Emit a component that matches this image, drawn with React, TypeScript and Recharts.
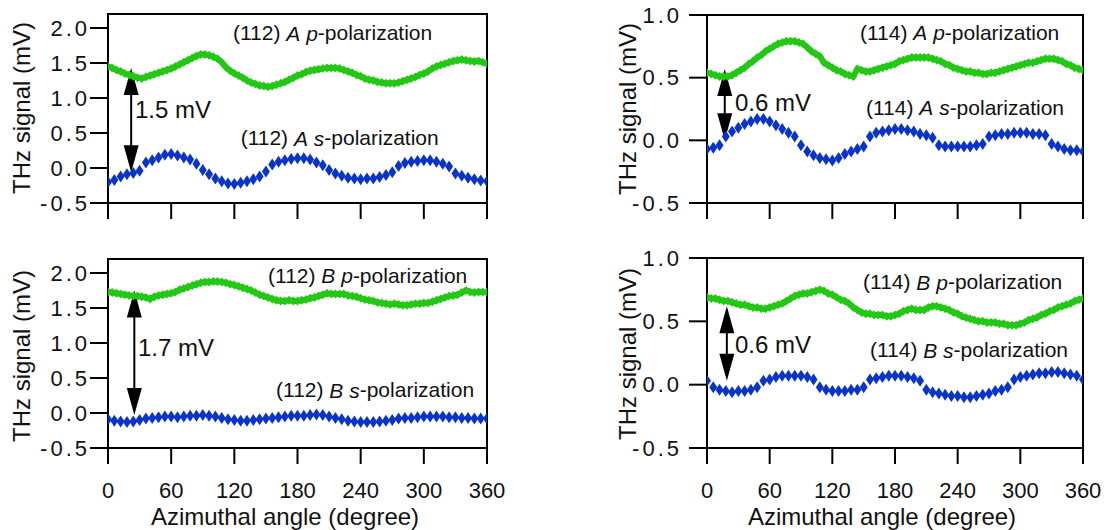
import React from 'react';
import { ScatterChart, Scatter, XAxis, YAxis, ReferenceArea, ReferenceLine, ReferenceDot } from 'recharts';

const FONT = "Arial, 'Liberation Sans', Helvetica, sans-serif";
const GREEN = '#22c814';
const BLUE = '#0a34c8';
const TEXT = '#111';

// x positions (azimuthal angle, degree)
const ANGLES_P = Array.from({ length: 91 }, (_, i) => i * 4);
const ANGLES_S = Array.from({ length: 61 }, (_, i) => i * 6);
const X_TICKS = [0, 60, 120, 180, 240, 300, 360];
const Y_TICKS_112 = [-0.5, 0, 0.5, 1, 1.5, 2];
const Y_TICKS_114 = [-0.5, 0, 0.5, 1];
const Y_DOMAIN_112: [number, number] = [-0.5, 2.2];
const Y_DOMAIN_114: [number, number] = [-0.5, 1.0];

// (112) A
const p112A = [1.45,1.43,1.40,1.38,1.35,1.33,1.31,1.29,1.28,1.30,
1.32,1.34,1.36,1.38,1.40,1.42,1.45,1.48,1.51,1.54,
1.57,1.60,1.62,1.62,1.61,1.59,1.56,1.51,1.44,1.39,
1.35,1.32,1.29,1.25,1.22,1.20,1.18,1.17,1.16,1.17,
1.19,1.21,1.23,1.26,1.29,1.32,1.34,1.37,1.39,1.40,
1.41,1.42,1.43,1.43,1.43,1.42,1.40,1.38,1.36,1.33,
1.31,1.28,1.26,1.25,1.23,1.22,1.21,1.21,1.21,1.22,
1.24,1.26,1.28,1.30,1.33,1.35,1.38,1.42,1.45,1.47,
1.49,1.51,1.53,1.54,1.55,1.54,1.53,1.52,1.53,1.51,
1.49];
const s112A = [-0.20,-0.17,-0.12,-0.09,-0.07,-0.04,0.08,0.11,0.15,0.19,
0.20,0.18,0.15,0.12,0.06,-0.03,-0.09,-0.15,-0.19,-0.22,
-0.23,-0.21,-0.19,-0.16,-0.12,-0.05,0.05,0.09,0.11,0.13,
0.14,0.14,0.12,0.08,0.04,-0.03,-0.08,-0.11,-0.14,-0.15,
-0.16,-0.15,-0.15,-0.13,-0.10,-0.06,0.03,0.07,0.09,0.10,
0.11,0.11,0.09,0.06,0.02,-0.08,-0.11,-0.14,-0.16,-0.18,
-0.19];

// (112) B
const p112B = [1.73,1.72,1.71,1.70,1.69,1.68,1.67,1.67,1.66,1.65,
1.63,1.66,1.68,1.69,1.70,1.71,1.73,1.76,1.78,1.80,
1.82,1.84,1.86,1.87,1.87,1.88,1.88,1.87,1.86,1.84,
1.83,1.81,1.79,1.77,1.75,1.72,1.69,1.67,1.65,1.63,
1.61,1.60,1.60,1.61,1.60,1.60,1.61,1.62,1.64,1.65,
1.67,1.69,1.71,1.70,1.70,1.70,1.70,1.68,1.67,1.66,
1.64,1.62,1.61,1.60,1.58,1.57,1.56,1.55,1.56,1.55,
1.54,1.54,1.55,1.56,1.56,1.57,1.57,1.59,1.61,1.63,
1.65,1.67,1.68,1.69,1.72,1.75,1.73,1.72,1.73,1.73,
1.72];
const s112B = [-0.09,-0.11,-0.12,-0.13,-0.12,-0.10,-0.08,-0.07,-0.06,-0.05,
-0.05,-0.06,-0.05,-0.04,-0.04,-0.03,-0.04,-0.05,-0.07,-0.09,
-0.10,-0.11,-0.11,-0.10,-0.09,-0.08,-0.07,-0.06,-0.05,-0.04,
-0.04,-0.04,-0.03,-0.02,-0.03,-0.05,-0.07,-0.09,-0.11,-0.12,
-0.13,-0.13,-0.13,-0.12,-0.11,-0.10,-0.08,-0.07,-0.07,-0.06,
-0.05,-0.05,-0.05,-0.05,-0.06,-0.06,-0.07,-0.07,-0.08,-0.08,
-0.08];

// (114) A
const p114A = [0.54,0.53,0.52,0.51,0.51,0.51,0.52,0.54,0.56,0.58,
0.61,0.63,0.66,0.68,0.71,0.73,0.75,0.77,0.78,0.79,
0.79,0.79,0.78,0.77,0.74,0.71,0.69,0.67,0.62,0.60,
0.58,0.56,0.55,0.53,0.52,0.51,0.57,0.56,0.55,0.55,
0.56,0.57,0.58,0.59,0.60,0.61,0.63,0.64,0.65,0.66,
0.66,0.66,0.66,0.66,0.65,0.64,0.63,0.61,0.60,0.58,
0.57,0.56,0.55,0.55,0.54,0.54,0.53,0.53,0.54,0.54,
0.55,0.56,0.57,0.58,0.59,0.60,0.61,0.62,0.62,0.63,
0.64,0.65,0.65,0.65,0.64,0.63,0.61,0.60,0.58,0.57,
0.56];
const s114A = [-0.07,-0.06,-0.04,0.03,0.07,0.10,0.13,0.15,0.17,0.17,
0.15,0.12,0.09,0.06,0.03,-0.04,-0.09,-0.12,-0.14,-0.15,
-0.16,-0.14,-0.11,-0.09,-0.07,-0.05,0.03,0.06,0.07,0.08,
0.09,0.09,0.08,0.07,0.05,0.04,0.02,-0.04,-0.05,-0.05,
-0.05,-0.05,-0.05,-0.04,-0.03,0.03,0.04,0.05,0.05,0.06,
0.06,0.06,0.05,0.05,0.04,-0.03,-0.05,-0.07,-0.08,-0.08,
-0.09];

// (114) B
const p114B = [0.69,0.68,0.68,0.67,0.66,0.66,0.65,0.64,0.63,0.63,
0.62,0.61,0.61,0.60,0.60,0.61,0.62,0.63,0.64,0.66,
0.68,0.70,0.71,0.72,0.72,0.73,0.74,0.75,0.74,0.72,
0.71,0.69,0.67,0.66,0.64,0.61,0.59,0.57,0.56,0.56,
0.55,0.55,0.55,0.54,0.54,0.55,0.56,0.58,0.59,0.60,
0.59,0.59,0.59,0.61,0.62,0.62,0.61,0.60,0.59,0.57,
0.56,0.54,0.53,0.52,0.51,0.50,0.50,0.49,0.49,0.49,
0.48,0.48,0.47,0.47,0.47,0.48,0.49,0.51,0.52,0.53,
0.55,0.56,0.58,0.59,0.61,0.62,0.63,0.64,0.66,0.67,
0.68];
const s114B = [0.03,-0.02,-0.04,-0.05,-0.06,-0.05,-0.05,-0.04,-0.02,0.03,
0.04,0.06,0.07,0.07,0.07,0.07,0.06,0.04,-0.02,-0.04,
-0.05,-0.05,-0.05,-0.04,-0.04,-0.02,0.04,0.05,0.06,0.07,
0.07,0.07,0.06,0.05,0.03,-0.04,-0.06,-0.07,-0.08,-0.09,
-0.09,-0.10,-0.10,-0.09,-0.08,-0.07,-0.05,-0.04,-0.02,0.04,
0.06,0.07,0.08,0.09,0.09,0.10,0.10,0.09,0.08,0.07,
0.04];

const toPoints = (angles: number[], vals: number[]) => angles.map((x, i) => ({ x, y: vals[i] }));

const diamond = (hw: number, hh: number, color: string) => (props: any) => {
  const { cx, cy } = props;
  if (cx == null || cy == null || isNaN(cx) || isNaN(cy)) return <g />;
  return <path d={`M${cx},${cy - hh}L${cx + hw},${cy}L${cx},${cy + hh}L${cx - hw},${cy}Z`} fill={color} />;
};

const arrowShape = (props: any) => {
  const { x1, y1, x2, y2 } = props;
  if (x1 == null) return <g />;
  const x = x1;
  const top = Math.min(y1, y2);
  const bot = Math.max(y1, y2);
  const hw = 7.5;
  const hl = 27;
  return (
    <g>
      <line x1={x} y1={top + hl - 2} x2={x} y2={bot - hl + 2} stroke="#000" strokeWidth={2} />
      <polygon points={`${x},${top} ${x - hw},${top + hl} ${x + hw},${top + hl}`} fill="#000" />
      <polygon points={`${x},${bot} ${x - hw},${bot - hl} ${x + hw},${bot - hl}`} fill="#000" />
    </g>
  );
};

type Note = { x: number; y: number; kind: 'pol' | 'mv'; plane?: string; ab?: string; pol?: string; text?: string };

const polText = (plane: string, ab: string, pol: string) => (props: any) => (
  <text x={props.cx} y={props.cy} fontSize={21} fontFamily={FONT} fill={TEXT} dominantBaseline="central" textAnchor="start">
    {`(${plane}) `}
    <tspan fontStyle="italic">{ab}</tspan>
    {' '}
    <tspan fontStyle="italic">{pol}</tspan>
    {'-polarization'}
  </text>
);
const mvText = (t: string) => (props: any) => (
  <text x={props.cx} y={props.cy} fontSize={24} fontFamily={FONT} fill={TEXT} dominantBaseline="central" textAnchor="start">
    {t}
  </text>
);

type PanelCfg = {
  left: number; top: number; width: number; height: number;
  margin: { top: number; right: number; bottom: number; left: number };
  yWidth: number; xHeight: number; yTickMargin: number;
  domain: [number, number]; yTicks: number[];
  p: number[]; s: number[]; showX: boolean;
  arrow: { x: number; y1: number; y2: number };
  notes: Note[];
};

const fmtY = (v: number) => v.toFixed(1);

function Panel({ c }: { c: PanelCfg }) {
  return (
    <div style={{ position: 'absolute', left: c.left, top: c.top }}>
      <ScatterChart width={c.width} height={c.height} margin={c.margin}>
        <XAxis
          type="number" dataKey="x" domain={[0, 360]} ticks={X_TICKS} interval={0} allowDataOverflow
          height={c.xHeight} axisLine={{ stroke: '#000', strokeWidth: 2 }}
          tickLine={{ stroke: '#000', strokeWidth: 2 }} tickSize={16} tickMargin={18}
          tick={{ fill: TEXT, fontSize: 22, fontFamily: FONT }}
          tickFormatter={c.showX ? (v: number) => String(v) : () => ''}
        />
        <YAxis
          type="number" dataKey="y" domain={c.domain} ticks={c.yTicks} interval={0} allowDataOverflow
          width={c.yWidth} axisLine={{ stroke: '#000', strokeWidth: 2 }}
          tickLine={{ stroke: '#000', strokeWidth: 2 }} tickSize={18} tickMargin={c.yTickMargin}
          tick={{ fill: TEXT, fontSize: 22, fontFamily: FONT, letterSpacing: 3 }} tickFormatter={fmtY}
        />
        <ReferenceArea x1={0} x2={360} y1={c.domain[0]} y2={c.domain[1]} fill="none" stroke="#000" strokeWidth={2} />
        <Scatter
          data={toPoints(ANGLES_P, c.p)} fill={GREEN} isAnimationActive={false}
          line={{ stroke: GREEN, strokeWidth: 6 }} lineType="joint"
          shape={diamond(4, 4.5, GREEN)}
        />
        <Scatter data={toPoints(ANGLES_S, c.s)} fill={BLUE} isAnimationActive={false} shape={diamond(4, 6, BLUE)} />
        <ReferenceLine
          segment={[{ x: c.arrow.x, y: c.arrow.y1 }, { x: c.arrow.x, y: c.arrow.y2 }]}
          shape={arrowShape} ifOverflow="visible"
        />
        {c.notes.map((n, i) => (
          <ReferenceDot
            key={i} x={n.x} y={n.y} r={0} ifOverflow="visible"
            shape={n.kind === 'pol' ? polText(n.plane!, n.ab!, n.pol!) : mvText(n.text!)}
          />
        ))}
      </ScatterChart>
    </div>
  );
}

const panels: PanelCfg[] = [
  {
    left: 0, top: 0, width: 520, height: 230, margin: { top: 14, right: 33, bottom: 0, left: 0 },
    yWidth: 108, xHeight: 27, yTickMargin: 0, domain: Y_DOMAIN_112, yTicks: Y_TICKS_112,
    p: p112A, s: s112A, showX: false,
    arrow: { x: 22, y1: 1.43, y2: -0.06 },
    notes: [
      { x: 118.7, y: 1.93, kind: 'pol', plane: '112', ab: 'A', pol: 'p' },
      { x: 126, y: 0.43, kind: 'pol', plane: '112', ab: 'A', pol: 's' },
      { x: 25.6, y: 0.83, kind: 'mv', text: '1.5 mV' },
    ],
  },
  {
    left: 0, top: 245, width: 520, height: 285, margin: { top: 14, right: 33, bottom: 0, left: 0 },
    yWidth: 108, xHeight: 82, yTickMargin: 0, domain: Y_DOMAIN_112, yTicks: Y_TICKS_112,
    p: p112B, s: s112B, showX: true,
    arrow: { x: 25, y1: 1.75, y2: -0.03 },
    notes: [
      { x: 152, y: 1.97, kind: 'pol', plane: '112', ab: 'B', pol: 'p' },
      { x: 159.6, y: 0.33, kind: 'pol', plane: '112', ab: 'B', pol: 's' },
      { x: 28.5, y: 0.93, kind: 'mv', text: '1.7 mV' },
    ],
  },
  {
    left: 600, top: 0, width: 506, height: 230, margin: { top: 15, right: 23, bottom: 0, left: 0 },
    yWidth: 107, xHeight: 27, yTickMargin: 7, domain: Y_DOMAIN_114, yTicks: Y_TICKS_114,
    p: p114A, s: s114A, showX: false,
    arrow: { x: 17, y1: 0.57, y2: 0.0 },
    notes: [
      { x: 146.5, y: 0.862, kind: 'pol', plane: '114', ab: 'A', pol: 'p' },
      { x: 152.2, y: 0.263, kind: 'pol', plane: '114', ab: 'A', pol: 's' },
      { x: 26.8, y: 0.303, kind: 'mv', text: '0.6 mV' },
    ],
  },
  {
    left: 600, top: 245, width: 506, height: 285, margin: { top: 13, right: 23, bottom: 0, left: 0 },
    yWidth: 107, xHeight: 82, yTickMargin: 7, domain: Y_DOMAIN_114, yTicks: Y_TICKS_114,
    p: p114B, s: s114B, showX: true,
    arrow: { x: 19, y1: 0.62, y2: 0.03 },
    notes: [
      { x: 149.4, y: 0.813, kind: 'pol', plane: '114', ab: 'B', pol: 'p' },
      { x: 156, y: 0.276, kind: 'pol', plane: '114', ab: 'B', pol: 's' },
      { x: 26.8, y: 0.316, kind: 'mv', text: '0.6 mV' },
    ],
  },
];

const Y_TITLE = 'THz signal (mV)';
const X_TITLE = 'Azimuthal angle (degree)';
const yTitles = [
  { x: 22, y: 108 },
  { x: 22, y: 356 },
  { x: 628, y: 109 },
  { x: 628, y: 354 },
];
const xTitles = [
  { x: 285, y: 517 },
  { x: 882, y: 517 },
];

export default function App() {
  return (
    <div style={{ position: 'absolute', left: 0, top: 0, width: 1106, height: 530, background: '#fff', overflow: 'hidden' }}>
      {panels.map((c, i) => <Panel key={i} c={c} />)}
      {yTitles.map((t, i) => (
        <div key={'y' + i} style={{
          position: 'absolute', left: t.x, top: t.y, transform: 'translate(-50%, -50%) rotate(-90deg)',
          fontFamily: FONT, fontSize: 24, color: TEXT, whiteSpace: 'nowrap', lineHeight: 1,
        }}>{Y_TITLE}</div>
      ))}
      {xTitles.map((t, i) => (
        <div key={'x' + i} style={{
          position: 'absolute', left: t.x, top: t.y, transform: 'translate(-50%, -50%)',
          fontFamily: FONT, fontSize: 24, color: TEXT, whiteSpace: 'nowrap', lineHeight: 1,
        }}>{X_TITLE}</div>
      ))}
    </div>
  );
}
